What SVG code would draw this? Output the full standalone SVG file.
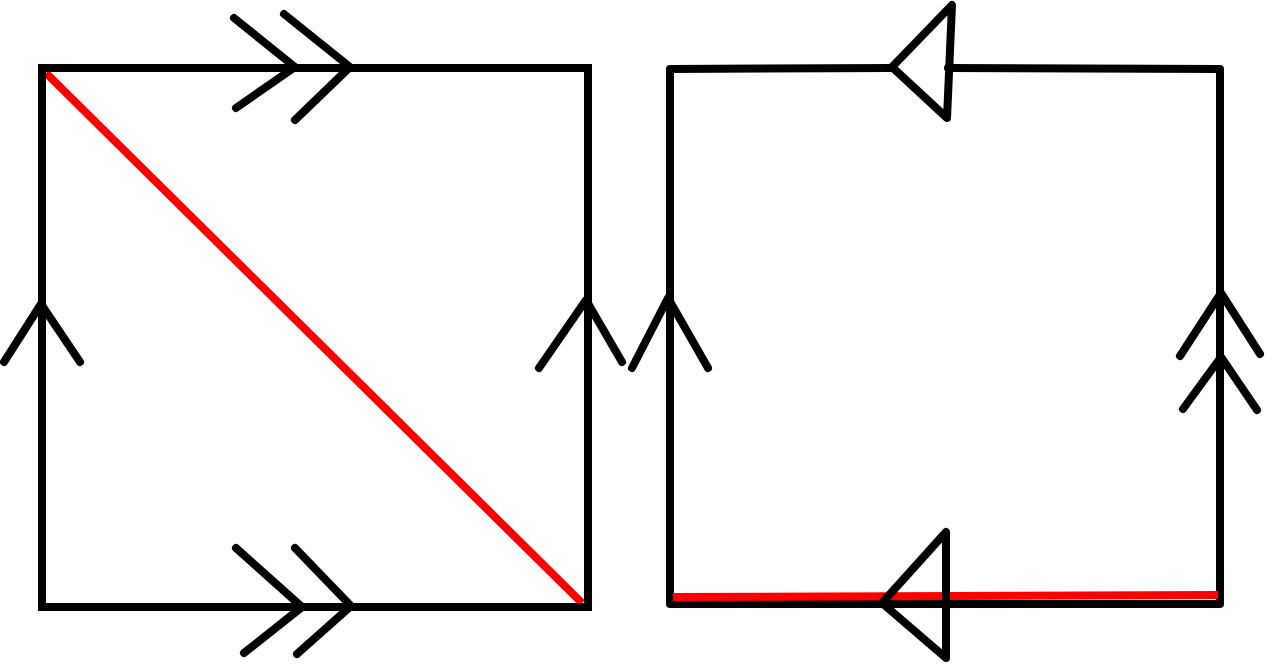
<svg xmlns="http://www.w3.org/2000/svg" width="1266" height="666" viewBox="0 0 1266 666">
<style>
.k{fill:none;stroke:#000;stroke-width:8;stroke-linecap:round;stroke-linejoin:round}
.r{fill:none;stroke:#f00;stroke-width:8;stroke-linecap:butt}
</style>
<rect width="1266" height="666" fill="#fff"/>
<g id="left-square">
<path class="r" d="M46 73 L582 603"/>
<rect class="k" x="42" y="68" width="546" height="539" style="stroke-linejoin:miter"/>
<path class="k" d="M234 18 L295 67 L236 108"/>
<path class="k" d="M284 14 L350 67 L295 120"/>
<path class="k" d="M236 548 L302 607 L244 653"/>
<path class="k" d="M295 548 L351 606 L297 654"/>
<path class="k" d="M4 362 L41 304 L80 362"/>
<path class="k" d="M539 368 L586 300 L622 362"/>
</g>
<g id="right-square">
<path class="k" d="M892 68 L670 69 L670 604 L1220 604 L1220 69 L948 68"/>
<path class="r" d="M673 597 L1218 595"/>
<path class="k" d="M892 67 L952 5 L947 118 Z"/>
<path class="k" d="M882 603 L946 532 L946 658 Z"/>
<path class="k" d="M632 368 L668 298 L708 368"/>
<path class="k" d="M1180 356 L1221 293 L1260 354"/>
<path class="k" d="M1183 409 L1221 357 L1257 410"/>
</g>
</svg>
